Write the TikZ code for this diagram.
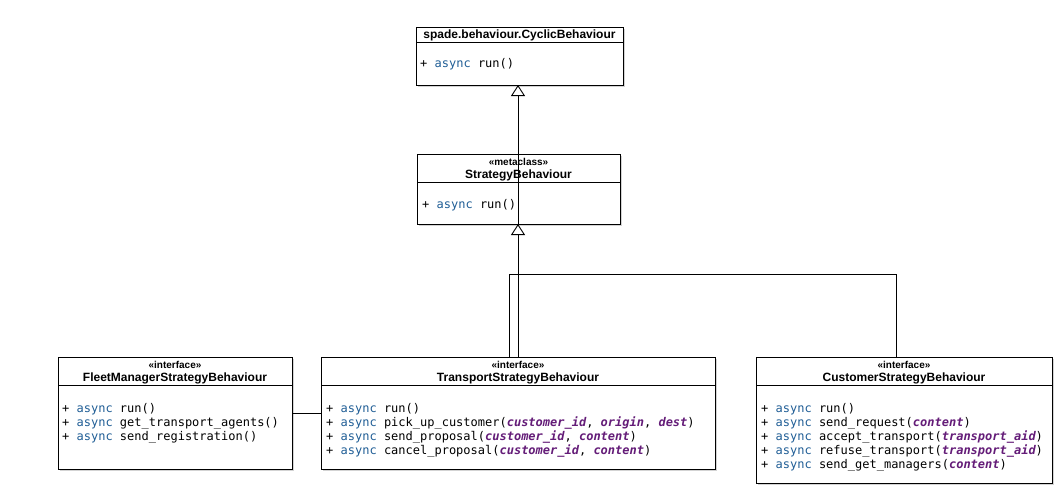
\documentclass[tikz,border=0pt]{standalone}
\usepackage{fontspec}
\setmainfont{Liberation Sans}
\setmonofont{DejaVu Sans Mono}
\usetikzlibrary{arrows.meta,shadows}
\definecolor{asyncblue}{RGB}{32,94,150}
\definecolor{parpurple}{RGB}{100,28,120}
\newcommand\kw{\textcolor{asyncblue}{async}}
\newcommand\pa[1]{\textcolor{parpurple}{\bfseries\itshape #1}}
\begin{document}
\begin{tikzpicture}[x=1pt,y=-1pt,
  umlbox/.style={draw, line width=1pt, fill=white, anchor=north west, inner sep=0pt, outer sep=0pt,
    drop shadow={shadow xshift=1.5pt, shadow yshift=-2pt, opacity=0.35}},
  hdr/.style={font=\fontsize{12}{14}\selectfont\bfseries, inner sep=0pt},
  stereo/.style={font=\fontsize{10}{11}\selectfont\bfseries, inner sep=0pt},
  meth/.style={font=\ttfamily\fontsize{12}{14}\selectfont, align=left, anchor=north west, inner sep=0pt},
  conn/.style={line width=0.9pt},
  gen/.style={line width=0.9pt, -{Triangle[open, length=11pt, width=14pt, line width=0.9pt]}}
]
\useasboundingbox (0,0) rectangle (1056,488);

% Cyclic
\node[umlbox, minimum width=207pt, minimum height=58pt] (cyc) at (416,27) {};
\draw[line width=0.9pt] (416,42) -- (623,42);
\node[hdr] (cycname) at (519.5,35) {spade.behaviour.CyclicBehaviour};
\node[meth] (cycm) at (420,58) {+ \kw\ run()};

% Strategy
\node[umlbox, minimum width=203pt, minimum height=70pt] (str) at (417,154) {};
\draw[line width=0.9pt] (417,182) -- (620,182);
\node[stereo] (strst) at (518.5,162) {«metaclass»};
\node[hdr] (strname) at (518.5,175) {StrategyBehaviour};
\node[meth] (strm) at (422,199) {+ \kw\ run()};

% Fleet
\node[umlbox, minimum width=234pt, minimum height=112pt] (fleet) at (58,357) {};
\draw[line width=0.9pt] (58,385) -- (292,385);
\node[stereo] (fleetst) at (175,365) {«interface»};
\node[hdr] (fleetname) at (175,378) {FleetManagerStrategyBehaviour};
\node[meth] (fleetm) at (62,403) {+ \kw\ run()\\+ \kw\ get\_transport\_agents()\\+ \kw\ send\_registration()};

% Transport
\node[umlbox, minimum width=394pt, minimum height=112pt] (trans) at (321,357) {};
\draw[line width=0.9pt] (321,385) -- (715,385);
\node[stereo] (transst) at (518,365) {«interface»};
\node[hdr] (transname) at (518,378) {TransportStrategyBehaviour};
\node[meth] (transm) at (326,403) {+ \kw\ run()\\+ \kw\ pick\_up\_customer(\pa{customer\_id}, \pa{origin}, \pa{dest})\\+ \kw\ send\_proposal(\pa{customer\_id}, \pa{content})\\+ \kw\ cancel\_proposal(\pa{customer\_id}, \pa{content})};

% Customer
\node[umlbox, minimum width=296pt, minimum height=126pt] (cust) at (756,357) {};
\draw[line width=0.9pt] (756,385) -- (1052,385);
\node[stereo] (custst) at (904,365) {«interface»};
\node[hdr] (custname) at (904,378) {CustomerStrategyBehaviour};
\node[meth] (custm) at (761,403) {+ \kw\ run()\\+ \kw\ send\_request(\pa{content})\\+ \kw\ accept\_transport(\pa{transport\_aid})\\+ \kw\ refuse\_transport(\pa{transport\_aid})\\+ \kw\ send\_get\_managers(\pa{content})};

% connectors
\draw[gen] (str.south -| 518,0) -- (cyc.south -| 518,0);
\draw[gen] (trans.north -| 518,0) -- (str.south -| 518,0);
\coordinate (bendA) at (509,274);
\coordinate (bendB) at (896,274);
\draw[conn] (cust.north -| bendB) -- (bendB) -- (bendA) -- (trans.north -| bendA);
\draw[conn] (fleet.east |- 0,413) -- (trans.west |- 0,413);
\end{tikzpicture}
\end{document}
